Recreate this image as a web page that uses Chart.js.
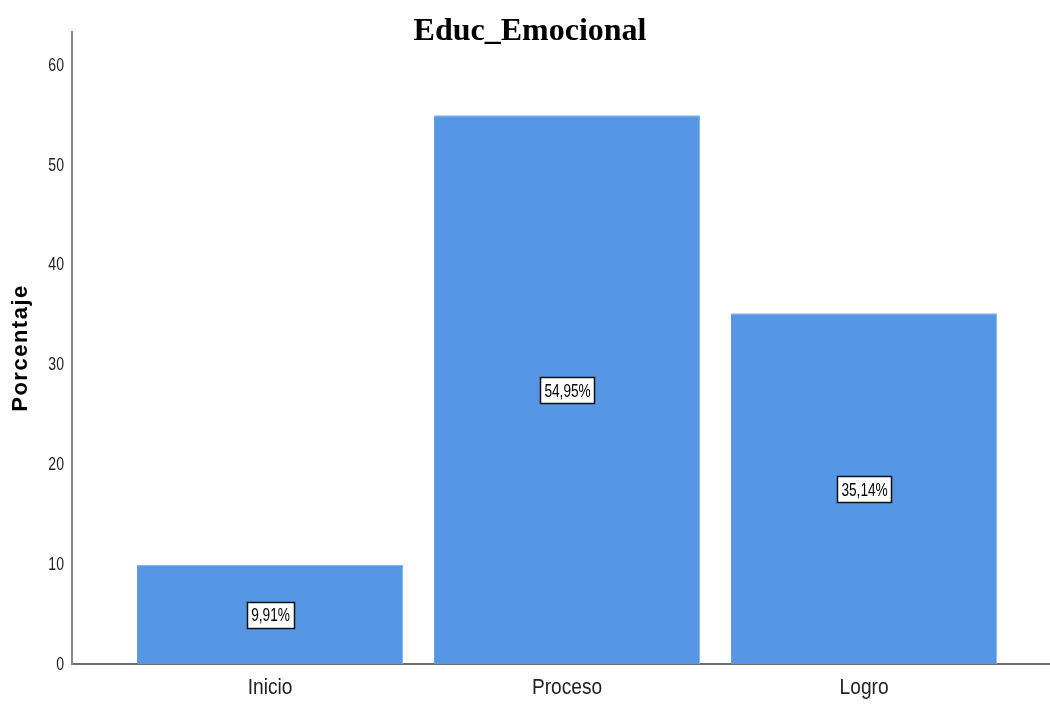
<!DOCTYPE html>
<html>
<head>
<meta charset="utf-8">
<script src="https://cdn.jsdelivr.net/npm/chart.js@4"></script>
<style>
  html, body { margin: 0; padding: 0; background: #fff; }
  #wrap { width: 1050px; height: 704px; }
</style>
</head>
<body>
<div id="wrap"><canvas id="graph" width="1050" height="704"></canvas></div>
<script>
const categories = ["Inicio", "Proceso", "Logro"];
const percentages = [9.91, 54.95, 35.14];
const valueLabels = ["9,91%", "54,95%", "35,14%"];
const yTicks = [0, 10, 20, 30, 40, 50, 60];
const chartTitle = "Educ_Emocional";
const yTitle = "Porcentaje";

const sans = "'Liberation Sans', Arial, sans-serif";

// the original uses a narrow sans; squeeze Liberation Sans horizontally
function narrowText(ctx, text, x, y, size, squeeze, align, baseline) {
  ctx.save();
  ctx.font = size + "px " + sans;
  ctx.textAlign = align;
  ctx.textBaseline = baseline;
  ctx.translate(x, y);
  ctx.scale(squeeze, 1);
  ctx.fillText(text, 0, 0);
  ctx.restore();
}

// tick labels, axis title and chart title
const textLayer = {
  id: "textLayer",
  afterDraw(chart) {
    const ctx = chart.ctx;
    const xs = chart.scales.x;
    const ys = chart.scales.y;

    ctx.fillStyle = "#222";
    yTicks.forEach((v) => {
      narrowText(ctx, String(v), ys.left - 8, ys.getPixelForValue(v) + 0.5, 19, 0.74, "right", "middle");
    });
    categories.forEach((c, i) => {
      narrowText(ctx, c, xs.getPixelForValue(i), 694, 22, 0.87, "center", "alphabetic");
    });

    ctx.save();
    ctx.fillStyle = "#000";
    ctx.font = "bold 22px " + sans;
    ctx.letterSpacing = "1.5px";
    ctx.textAlign = "center";
    ctx.textBaseline = "middle";
    ctx.translate(21, (chart.chartArea.top + chart.chartArea.bottom) / 2);
    ctx.rotate(-Math.PI / 2);
    ctx.fillText(yTitle, 0, 0);
    ctx.restore();

    ctx.save();
    ctx.font = "bold 32px 'Liberation Serif', 'Times New Roman', serif";
    ctx.fillStyle = "#000";
    ctx.textAlign = "center";
    ctx.textBaseline = "alphabetic";
    ctx.fillText(chartTitle, 530, 40);
    ctx.restore();
  }
};

// boxed percentage labels in the middle of each bar
const boxLabels = {
  id: "boxLabels",
  afterDatasetsDraw(chart) {
    const ctx = chart.ctx;
    const meta = chart.getDatasetMeta(0);
    const yScale = chart.scales.y;
    meta.data.forEach((bar, i) => {
      const y = yScale.getPixelForValue(percentages[i] / 2);
      const text = valueLabels[i];
      ctx.font = "18px " + sans;
      const w = Math.round(ctx.measureText(text).width * 0.76 + 8);
      const h = 26;
      const x0 = Math.round(bar.x - w / 2);
      const y0 = Math.round(y - h / 2);
      ctx.fillStyle = "#fff";
      ctx.fillRect(x0, y0, w, h);
      ctx.strokeStyle = "#111";
      ctx.lineWidth = 1.5;
      ctx.strokeRect(x0 + 0.5, y0 + 0.5, w, h);
      ctx.fillStyle = "#000";
      narrowText(ctx, text, bar.x + 0.5, y + 2, 18, 0.76, "center", "middle");
    });
  }
};

new Chart(document.querySelector("#graph"), {
  type: "bar",
  data: {
    datasets: [
      {
        data: percentages.map((v, i) => ({ x: i, y: v })),
        backgroundColor: "#5596E5",
        borderColor: "#86B4EC",
        borderWidth: { top: 1, left: 0, right: 1, bottom: 0 },
        borderSkipped: "start",
        barPercentage: 0.896,
        categoryPercentage: 1,
      },
    ],
  },
  options: {
    responsive: false,
    animation: false,
    layout: { padding: { top: 32, right: 0, left: 72, bottom: 40 } },
    plugins: {
      legend: { display: false },
      tooltip: { enabled: false },
    },
    scales: {
      x: {
        type: "linear",
        offset: false,
        min: -0.667,
        max: 2.626,
        grid: { display: false, drawTicks: false },
        border: { display: true, color: "#6e6e6e", width: 2 },
        afterBuildTicks(axis) {
          axis.ticks = categories.map((c, i) => ({ value: i }));
        },
        ticks: { display: false },
      },
      y: {
        min: 0,
        max: 63.3,
        grid: { display: false, drawTicks: false },
        border: { display: true, color: "#8a8a8a", width: 2 },
        ticks: { display: false },
      },
    },
  },
  plugins: [boxLabels, textLayer],
});
</script>
</body>
</html>
